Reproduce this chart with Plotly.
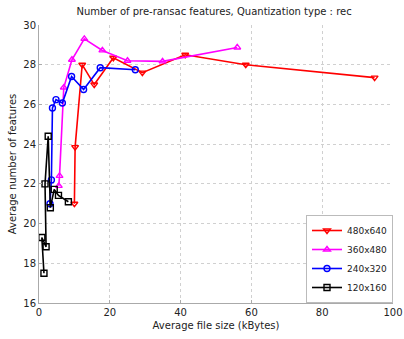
import plotly.graph_objects as go

title = "Number of pre-ransac features, Quantization type : rec"
x_label = "Average file size (kBytes)"
y_label = "Average number of features"

names = ["480x640", "360x480", "240x320", "120x160"]
colors = ["#ff0000", "#ff00ff", "#0000ff", "#000000"]
symbols = ["triangle-down-open", "triangle-up-open", "circle-open", "square-open"]

x_480 = [10.0, 10.2, 12.2, 15.6, 21.0, 29.2, 41.3, 58.4, 94.8]
y_480 = [21.0, 23.85, 28.0, 27.0, 28.35, 27.6, 28.5, 28.0, 27.35]

x_360 = [5.6, 5.8, 7.0, 9.3, 12.8, 17.9, 25.0, 34.9, 56.0]
y_360 = [21.9, 22.4, 26.85, 28.25, 29.3, 28.72, 28.2, 28.17, 28.87]

x_240 = [3.1, 3.5, 3.8, 4.8, 6.6, 9.2, 12.6, 17.3, 27.2]
y_240 = [21.0, 22.2, 25.82, 26.24, 26.07, 27.41, 26.75, 27.85, 27.75]

x_120 = [1.4, 0.8, 2.0, 1.7, 2.6, 3.2, 4.3, 5.5, 8.3]
y_120 = [17.5, 19.3, 18.83, 22.0, 24.4, 20.8, 21.72, 21.42, 21.1]

xs = [x_480, x_360, x_240, x_120]
ys = [y_480, y_360, y_240, y_120]

fig = go.Figure()
for n, c, s, xv, yv in zip(names, colors, symbols, xs, ys):
    fig.add_trace(go.Scatter(
        x=xv, y=yv, name=n, mode="lines+markers",
        line=dict(color=c, width=1.6),
        marker=dict(symbol=s, size=6, color=c, line=dict(width=1.4, color=c)),
    ))

font = "DejaVu Sans, Arial, sans-serif"
fig.update_layout(
    width=404, height=339,
    margin=dict(l=39, r=11, t=25, b=36),
    paper_bgcolor="white", plot_bgcolor="white",
    title=dict(text=title, x=0.53, xanchor="center", y=0.975, yanchor="top",
               font=dict(family=font, size=10, color="#222")),
    font=dict(family=font, size=10, color="#222"),
    legend=dict(x=1.0, xanchor="right", y=0.0, yanchor="bottom",
                bgcolor="white", bordercolor="#bbbbbb", borderwidth=1,
                font=dict(size=9), itemwidth=30, tracegroupgap=0),
    showlegend=True,
)
fig.update_xaxes(range=[0, 100], tickvals=[0, 20, 40, 60, 80, 100],
                 showgrid=True, gridcolor="#d0d0d0", griddash="dot", gridwidth=1,
                 showline=True, linecolor="#aaaaaa", linewidth=1,
                 ticks="inside", ticklen=3, tickcolor="#aaaaaa", automargin=False,
                 zeroline=False, title=dict(text=x_label, standoff=4, font=dict(size=10)),
                 tickfont=dict(size=10))
fig.update_yaxes(range=[16, 30], tickvals=[16, 18, 20, 22, 24, 26, 28, 30],
                 showgrid=True, gridcolor="#d0d0d0", griddash="dot", gridwidth=1,
                 showline=True, linecolor="#aaaaaa", linewidth=1,
                 ticks="inside", ticklen=3, tickcolor="#aaaaaa", automargin=False,
                 zeroline=False, title=dict(text=y_label, standoff=4, font=dict(size=10)),
                 tickfont=dict(size=10))
fig.write_html("out.html")
